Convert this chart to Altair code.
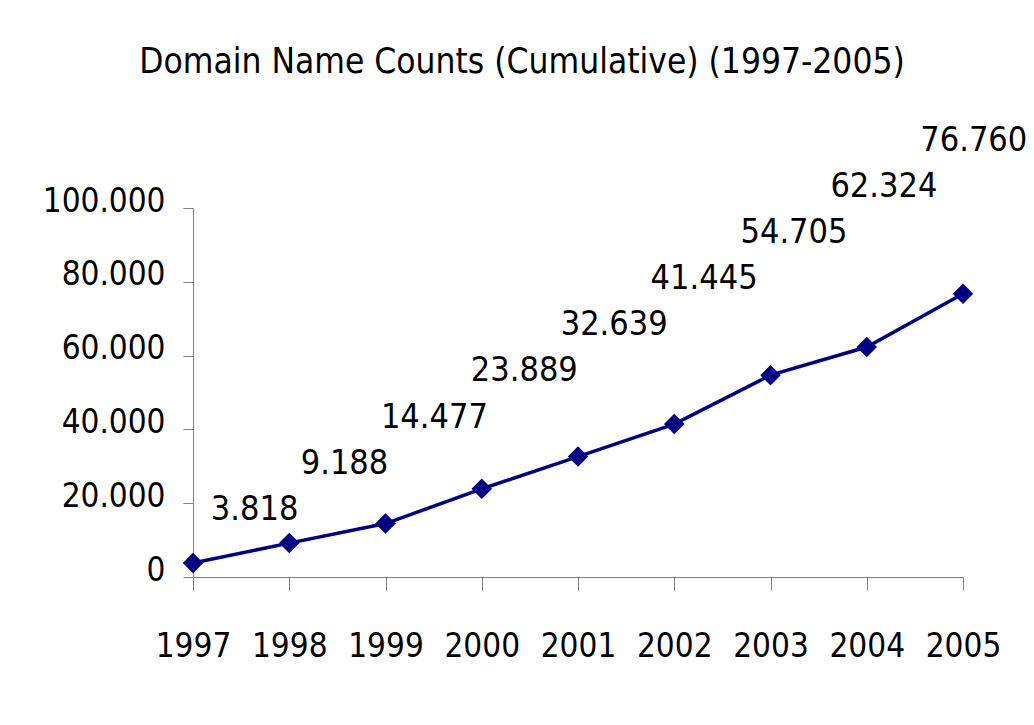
import altair as alt
import pandas as pd

years = [1997, 1998, 1999, 2000, 2001, 2002, 2003, 2004, 2005]
counts = [3818, 9188, 14477, 23889, 32639, 41445, 54705, 62324, 76760]
y_ticks = [0, 20000, 40000, 60000, 80000, 100000]
title_text = "Domain Name Counts (Cumulative) (1997-2005)"

FONT = "DejaVu Sans Condensed, DejaVu Sans, sans-serif"
NAVY = "#000080"

df = pd.DataFrame({"year": years, "count": counts})

x_scale = alt.Scale(domain=[years[0], years[-1]], nice=False, zero=False)
y_scale = alt.Scale(domain=[0, 100000], nice=False)

x_axis = alt.Axis(
    values=years, format="d", title=None, grid=False,
    tickSize=13, tickColor="#808080", domainColor="#808080",
    labelFontSize=33, labelPadding=40, labelColor="black", labelFont=FONT,
    labelFlush=False, labelOverlap=False,
)
y_axis = alt.Axis(
    values=y_ticks, title=None, grid=False,
    tickSize=10, tickColor="#808080", domainColor="#808080",
    labelFontSize=33, labelPadding=18, labelColor="black", labelFont=FONT,
    labelExpr="replace(format(datum.value, ',d'), /,/g, '.')",
    labelOffset=-7, labelFlush=False, labelOverlap=False,
)

base = alt.Chart(df)

line = base.mark_line(color=NAVY, strokeWidth=3.5).encode(
    x=alt.X("year:Q", scale=x_scale, axis=x_axis),
    y=alt.Y("count:Q", scale=y_scale, axis=y_axis),
)

points = base.mark_point(shape="diamond", filled=True, color=NAVY, size=420, opacity=1).encode(
    x=alt.X("year:Q", scale=x_scale),
    y=alt.Y("count:Q", scale=y_scale),
)

# data labels sit above and to the right of each point, stepping up year by year
labels = base.transform_calculate(
    label="replace(format(datum.count, ',d'), /,/g, '.')",
    lx="datum.year + 0.64 - 0.066 * (datum.year - 1997)",
    ly="18200 + 12500 * (datum.year - 1997)",
).mark_text(font=FONT, fontSize=34, color="black", align="center", baseline="middle").encode(
    x=alt.X("lx:Q", scale=x_scale),
    y=alt.Y("ly:Q", scale=y_scale),
    text="label:N",
)

chart = (line + points + labels).properties(
    width=770,
    height=369,
    autosize=alt.AutoSizeParams(type="none"),
    padding={"left": 185, "top": 200, "right": 63, "bottom": 148},
    background="white",
    title=alt.TitleParams(
        text=title_text, font=FONT, fontSize=35, fontWeight="normal",
        color="black", anchor="middle", dx=-56, offset=44,
    ),
).configure_view(stroke=None)

chart.save("out.html", embed_options={"renderer": "svg", "actions": False})
